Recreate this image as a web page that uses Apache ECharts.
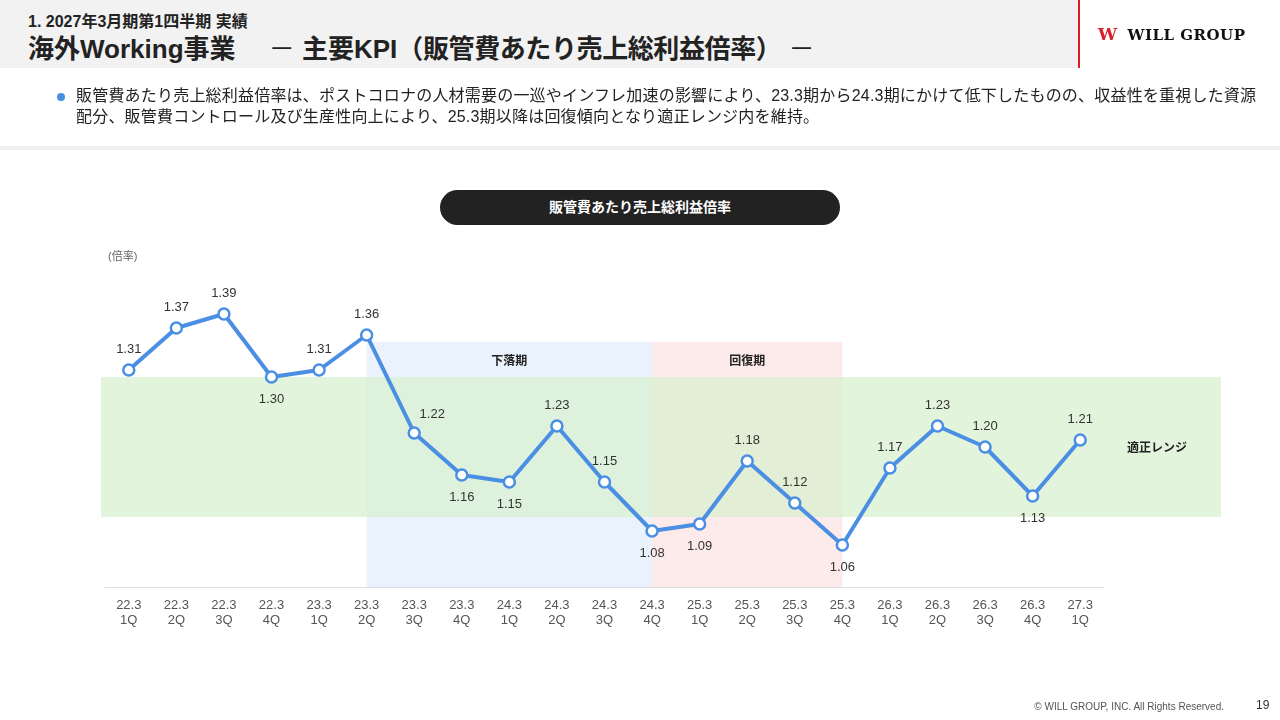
<!DOCTYPE html>
<html lang="ja">

<head>
    <meta charset="UTF-8">
    <title>海外Working事業 主要KPI</title>
    <script src="https://cdn.jsdelivr.net/npm/echarts@6/dist/echarts.min.js"></script>
    <style>
        html,
        body {
            margin: 0;
            padding: 0;
            width: 1280px;
            height: 720px;
            overflow: hidden;
            background: #fff;
            font-family: "Liberation Sans", "Noto Sans CJK JP", sans-serif;
            color: #222;
        }

        .header {
            position: absolute;
            left: 0;
            top: 0;
            width: 1078px;
            height: 68px;
            background: #f2f2f2;
        }

        .header .sub {
            position: absolute;
            left: 28px;
            top: 8px;
            font-size: 16px;
            font-weight: bold;
        }

        .header .main {
            position: absolute;
            left: 28px;
            top: 28px;
            font-size: 26px;
            font-weight: bold;
            white-space: nowrap;
        }

        .header .main .dash {
            font-weight: normal;
        }

        .header .main .paren {
            letter-spacing: -0.4px;
        }

        .red-bar {
            position: absolute;
            left: 1078px;
            top: 0;
            width: 2px;
            height: 68px;
            background: #d8202a;
        }

        .logo {
            position: absolute;
            left: 1098px;
            top: 24px;
            font-family: "DejaVu Serif", serif;
            font-size: 15px;
            font-weight: bold;
            letter-spacing: 0.5px;
            color: #111;
            white-space: nowrap;
        }

        .logo span {
            color: #d8202a;
            font-size: 17px;
            margin-right: 10px;
        }

        .bullet {
            position: absolute;
            left: 76px;
            top: 85px;
            width: 1200px;
            font-size: 16px;
            line-height: 21px;
            letter-spacing: 0.2px;
            color: #222;
            white-space: nowrap;
        }

        .dot {
            position: absolute;
            left: 57px;
            top: 93px;
            width: 8px;
            height: 8px;
            border-radius: 50%;
            background: #4a90e2;
        }

        .divider {
            position: absolute;
            left: 0;
            top: 146px;
            width: 1280px;
            height: 4px;
            background: #f0f0f0;
        }

        .pill {
            position: absolute;
            left: 440px;
            top: 190px;
            width: 400px;
            height: 35px;
            border-radius: 18px;
            background: #222;
            color: #fff;
            font-size: 14px;
            font-weight: bold;
            text-align: center;
            line-height: 35px;
        }

        .unit {
            position: absolute;
            left: 108px;
            top: 247px;
            font-size: 11px;
            color: #666;
        }

        .footer {
            position: absolute;
            right: 56px;
            top: 701px;
            font-size: 10px;
            color: #555;
        }

        .page {
            position: absolute;
            left: 1256px;
            top: 698px;
            font-size: 12px;
            color: #333;
        }

        #chart {
            position: absolute;
            left: 0;
            top: 0;
            width: 1280px;
            height: 720px;
        }
    </style>
</head>

<body>
    <div id="chart"></div>
    <div class="header">
        <div class="sub">1. 2027年3月期第1四半期 実績</div>
        <div class="main">海外Working事業　 <span class="dash">－</span>&nbsp;主要KPI<span class="paren">（販管費あたり売上総利益倍率）</span> <span class="dash">－</span></div>
    </div>
    <div class="red-bar"></div>
    <div class="logo"><span>W</span>WILL GROUP</div>
    <div class="dot"></div>
    <div class="bullet">販管費あたり売上総利益倍率は、ポストコロナの人材需要の一巡やインフレ加速の影響により、23.3期から24.3期にかけて低下したものの、収益性を重視した資源<br>配分、販管費コントロール及び生産性向上により、25.3期以降は回復傾向となり適正レンジ内を維持。</div>
    <div class="divider"></div>
    <div class="pill">販管費あたり売上総利益倍率</div>
    <div class="unit">(倍率)</div>
    <div class="footer">© WILL GROUP, INC. All Rights Reserved.</div>
    <div class="page">19</div>

    <script>
        // 四半期ラベル
        var periods = ['22.3', '22.3', '22.3', '22.3', '23.3', '23.3', '23.3', '23.3', '24.3', '24.3', '24.3',
            '24.3', '25.3', '25.3', '25.3', '25.3', '26.3', '26.3', '26.3', '26.3', '27.3'];
        var quarters = ['1Q', '2Q', '3Q', '4Q', '1Q', '2Q', '3Q', '4Q', '1Q', '2Q', '3Q',
            '4Q', '1Q', '2Q', '3Q', '4Q', '1Q', '2Q', '3Q', '4Q', '1Q'];
        // 販管費あたり売上総利益倍率
        var ratios = [1.31, 1.37, 1.39, 1.30, 1.31, 1.36, 1.22, 1.16, 1.15, 1.23, 1.15,
            1.08, 1.09, 1.18, 1.12, 1.06, 1.17, 1.23, 1.20, 1.13, 1.21];
        // 適正レンジ
        var rangeLow = 1.10;
        var rangeHigh = 1.30;
        // 下落期・回復期 (開始/終了の四半期インデックス, 上端の値)
        var declineSpan = [5, 11];
        var recoverySpan = [11, 15];
        var phaseTop = 1.35;

        var categories = periods.map(function(p, i) {
            return p + '\n' + quarters[i];
        });

        // ラベルを点の下に置くもの
        var below = [3, 7, 8, 11, 12, 15, 19];

        var seriesData = ratios.map(function(v, i) {
            var item = { value: v };
            if (below.indexOf(i) >= 0) {
                item.label = { position: 'bottom', distance: 9 };
            }
            if (i === 6) {
                item.label = { position: 'top', offset: [18, 2] };
            }
            return item;
        });

        var bandLabel = {
            show: true,
            color: '#222',
            fontSize: 12,
            fontWeight: 'bold',
            fontFamily: '"Noto Sans CJK JP", sans-serif'
        };

        var chart = echarts.init(document.getElementById('chart'));
        chart.setOption({
            animation: false,
            textStyle: {
                fontFamily: '"Liberation Sans", "Noto Sans CJK JP", sans-serif'
            },
            grid: [{
                left: 105,
                right: 176,
                top: 237,
                bottom: 133
            }, {
                left: 101,
                right: 59,
                top: 237,
                bottom: 133
            }],
            xAxis: [{
                type: 'category',
                gridIndex: 0,
                data: categories,
                boundaryGap: true,
                axisLine: { lineStyle: { color: '#dddddd', width: 1 } },
                axisTick: { show: false },
                axisLabel: {
                    color: '#555',
                    fontSize: 13,
                    lineHeight: 15,
                    margin: 11
                },
                splitLine: { show: false }
            }, {
                type: 'value',
                gridIndex: 1,
                min: 0,
                max: 1,
                show: false
            }],
            yAxis: [{
                type: 'value',
                gridIndex: 0,
                min: 1.0,
                max: 1.5,
                show: false
            }, {
                type: 'value',
                gridIndex: 1,
                min: 1.0,
                max: 1.5,
                show: false
            }],
            series: [{
                // 下落期・回復期の帯
                type: 'line',
                xAxisIndex: 0,
                yAxisIndex: 0,
                data: [],
                silent: true,
                z: 1,
                markArea: {
                    silent: true,
                    label: Object.assign({ position: 'insideTop', distance: 12 }, bandLabel),
                    data: [
                        [{
                            name: '下落期',
                            xAxis: declineSpan[0],
                            yAxis: phaseTop,
                            itemStyle: { color: '#eaf2fd' }
                        }, { xAxis: declineSpan[1], yAxis: 1.0 }],
                        [{
                            name: '回復期',
                            xAxis: recoverySpan[0],
                            yAxis: phaseTop,
                            itemStyle: { color: '#fdeaea' }
                        }, { xAxis: recoverySpan[1], yAxis: 1.0 }]
                    ]
                }
            }, {
                // 適正レンジの帯
                type: 'line',
                xAxisIndex: 1,
                yAxisIndex: 1,
                data: [],
                silent: true,
                z: 2,
                markArea: {
                    silent: true,
                    itemStyle: { color: 'rgba(216, 240, 207, 0.72)' },
                    label: Object.assign({ position: 'insideRight', distance: 34 }, bandLabel),
                    data: [
                        [{ name: '適正レンジ', xAxis: 0, yAxis: rangeHigh }, { xAxis: 1, yAxis: rangeLow }]
                    ]
                }
            }, {
                name: '販管費あたり売上総利益倍率',
                type: 'line',
                xAxisIndex: 0,
                yAxisIndex: 0,
                data: seriesData,
                z: 5,
                symbol: 'circle',
                symbolSize: 11,
                lineStyle: { color: '#4a8fe3', width: 4 },
                itemStyle: { color: '#ffffff', borderColor: '#4a8fe3', borderWidth: 2.5 },
                label: {
                    show: true,
                    position: 'top',
                    distance: 7,
                    color: '#333',
                    fontSize: 13,
                    formatter: function(p) {
                        return p.value.toFixed(2);
                    }
                }
            }]
        });
    </script>
</body>

</html>
